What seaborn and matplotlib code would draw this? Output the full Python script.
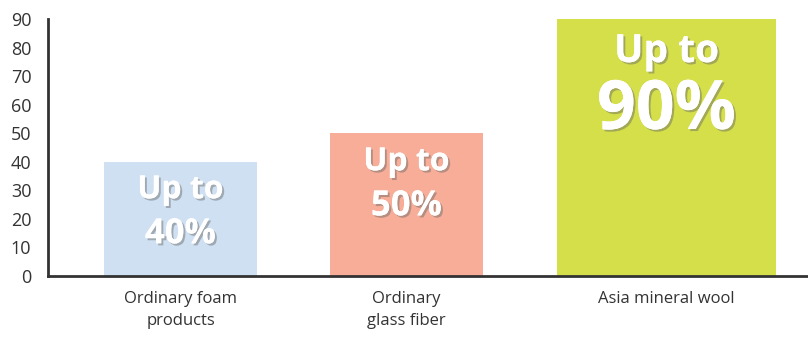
import matplotlib
matplotlib.use("Agg")
import matplotlib.pyplot as plt
import matplotlib.patheffects as pe
import seaborn as sns
import pandas as pd

categories = ["Ordinary foam\nproducts", "Ordinary\nglass fiber", "Asia mineral wool"]
values = [40, 50, 90]
label_top = ["Up to", "Up to", "Up to"]
label_pct = ["40%", "50%", "90%"]
y_ticks = [0, 10, 20, 30, 40, 50, 60, 70, 80, 90]

# layout / style (not data)
colors = ["#cfe0f2", "#f7ad98", "#d4df4a"]
centers = [132.5, 358.5, 618.5]   # in axis units (0..760 maps to pixel 48..808)
widths = [153, 153, 219]

sns.set_theme(style="white")
plt.rcParams["font.family"] = ["Open Sans", "DejaVu Sans"]

fig = plt.figure(figsize=(8.08, 3.37), dpi=100)
ax = fig.add_axes([48 / 808, 61 / 337, 1 - 48 / 808, (276 - 19) / 337])

df = pd.DataFrame({"cat": categories, "val": values})
sns.barplot(data=df, x="cat", y="val", hue="cat", palette=colors, legend=False,
            ax=ax, saturation=1)

for p, c, w in zip(ax.patches, centers, widths):
    p.set_x(c - w / 2)
    p.set_width(w)
    p.set_edgecolor("none")

ax.set_xlim(0, 760)
ax.set_ylim(0, 90)
ax.set_xticks(centers)
ax.set_xticklabels(categories, fontsize=12, color="#333333", linespacing=1.45)
ax.set_yticks(y_ticks)
ax.set_yticklabels([str(t) for t in y_ticks], fontsize=13, color="#333333")
ax.tick_params(axis="both", length=0)
ax.tick_params(axis="y", pad=12)
ax.tick_params(axis="x", pad=11)
ax.set_xlabel("")
ax.set_ylabel("")
for s in ["top", "right"]:
    ax.spines[s].set_visible(False)
for s in ["left", "bottom"]:
    ax.spines[s].set_color("#333333")
    ax.spines[s].set_linewidth(2)

shadow = [pe.withSimplePatchShadow(offset=(1.5, -1.5), shadow_rgbFace="#666666", alpha=0.45),
          pe.Normal()]

# text positions in data y
text_spec = [
    (30.2, 14.6, 23, 25),
    (40.0, 24.4, 23, 25),
    (78.6, 57.8, 28, 49),
]
for c, t, pct, (y1, y2, fs1, fs2) in zip(centers, label_top, label_pct, text_spec):
    ax.text(c, y1, t, ha="center", va="center", color="white", fontsize=fs1,
            fontweight="bold", path_effects=shadow)
    ax.text(c, y2, pct, ha="center", va="center", color="white", fontsize=fs2,
            fontweight="bold", path_effects=shadow)

fig.savefig("out.png", dpi=100)
